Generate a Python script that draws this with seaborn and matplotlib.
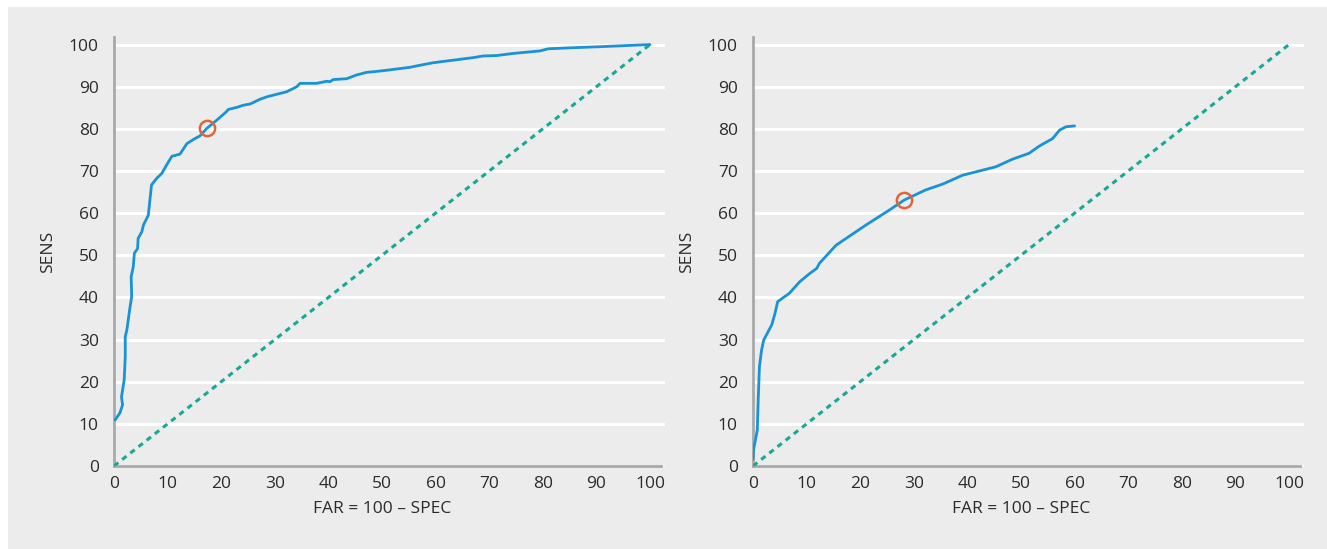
import numpy as np
import pandas as pd
import matplotlib
matplotlib.use("Agg")
import matplotlib.pyplot as plt
import seaborn as sns
from matplotlib.patches import Rectangle

# ROC curve, left panel (FAR, SENS)
left_far = [0.2, 1.1, 1.6, 1.4, 1.9, 2.1, 2.1, 2.4, 3.0, 3.3, 3.2, 3.6, 3.8, 4.4, 4.5,
            5.2, 5.5, 6.4, 6.7, 7.0, 8.0, 8.9, 9.8, 10.8, 12.3, 13.6, 15.1, 16.0, 17.3,
            19.2, 21.0, 21.3, 22.9, 24.1, 25.4, 27.2, 28.5, 29.7, 32.2, 34.1, 34.7,
            37.8, 39.7, 40.3, 40.9, 43.4, 45.3, 47.1, 50.2, 55.2, 57.1, 59.6, 63.3,
            67.0, 68.9, 71.4, 74.5, 79.5, 81.0, 84.5, 90.7, 100.0]
left_sens = [10.9, 12.6, 14.5, 16.4, 20.4, 25.9, 30.7, 32.3, 37.8, 40.2, 44.9, 47.3, 50.5,
             51.6, 54.0, 55.6, 57.2, 59.5, 63.1, 66.7, 68.3, 69.4, 71.4, 73.5, 74.0, 76.5,
             77.7, 78.3, 80.1, 82.1, 84.1, 84.6, 85.1, 85.6, 85.9, 87.0, 87.6, 88.0, 88.8,
             90.0, 90.8, 90.8, 91.3, 91.2, 91.7, 91.9, 92.8, 93.4, 93.8, 94.6, 95.1, 95.7,
             96.3, 96.9, 97.3, 97.4, 97.9, 98.5, 99.0, 99.2, 99.5, 100.0]
left_cut = (17.3, 80.1)

# ROC curve, right panel
right_far = [0.0, 0.1, 0.8, 0.97, 1.2, 1.6, 2.0, 3.5, 4.1, 4.6, 6.8, 8.7, 10.6, 11.9, 12.4,
             15.5, 21.1, 25.4, 28.2, 32.2, 35.4, 39.1, 42.2, 45.3, 48.4, 51.5, 53.4, 55.9,
             57.2, 58.4, 60.0]
right_sens = [1.5, 3.8, 8.5, 15.7, 23.6, 27.5, 29.9, 33.5, 36.2, 39.0, 41.0, 43.7, 45.7,
              46.9, 48.1, 52.4, 57.2, 60.7, 63.1, 65.5, 66.9, 69.0, 70.0, 71.0, 72.8, 74.2,
              75.9, 77.7, 79.7, 80.5, 80.7]
right_cut = (28.2, 63.1)

chance = [0, 100]

ticks = list(range(0, 101, 10))

BG = "#ebeceb"
BLUE = "#1793d6"
TEAL = "#17a899"
ORANGE = "#e0663a"
SPINE = "#a8a9aa"
TXT = "#2b2b2b"

sns.set_theme(style="whitegrid")
plt.rcParams["font.family"] = ["Open Sans", "DejaVu Sans"]

fig = plt.figure(figsize=(13.27, 5.49), dpi=100, facecolor="white")
fig.patches.append(Rectangle((8 / 1327, 0), 1, 1 - 7 / 549, transform=fig.transFigure,
                             facecolor=BG, edgecolor="none", zorder=-10))

ax1 = fig.add_axes([114 / 1327, 83 / 549, 551 / 1327, 429 / 549])
ax2 = fig.add_axes([753 / 1327, 83 / 549, 551 / 1327, 429 / 549])

panels = [(ax1, left_far, left_sens, left_cut), (ax2, right_far, right_sens, right_cut)]
for ax, far, sens, cut in panels:
    ax.set_facecolor(BG)
    df = pd.DataFrame({"FAR": far, "SENS": sens})
    sns.lineplot(x=chance, y=chance, ax=ax, color=TEAL, lw=2.2,
                 linestyle=(0, (1.8, 1.6)), zorder=3)
    sns.lineplot(data=df, x="FAR", y="SENS", ax=ax, sort=False, color=BLUE, lw=2.0,
                 zorder=4, estimator=None)
    ax.plot([cut[0]], [cut[1]], marker="o", ms=11, mfc="none", mec=ORANGE, mew=1.8,
            zorder=5)

    ax.set_xlim(0, 102.8)
    ax.set_ylim(0, 101.8)
    ax.set_xticks(ticks)
    ax.set_yticks(ticks)
    ax.grid(axis="x", visible=False)
    ax.grid(axis="y", color="white", lw=2.2)
    for s in ["top", "right"]:
        ax.spines[s].set_visible(False)
    for s in ["left", "bottom"]:
        ax.spines[s].set_color(SPINE)
        ax.spines[s].set_linewidth(2)
    ax.spines["bottom"].set_bounds(0, 102)
    ax.tick_params(axis="y", length=0, pad=11, labelsize=12.5, labelcolor=TXT)
    ax.tick_params(axis="x", length=0, pad=7, labelsize=12.5, labelcolor=TXT)
    ax.set_xlabel("FAR = 100 \u2013 SPEC", fontsize=12.5, color=TXT)
    ax.set_ylabel("SENS", fontsize=12.5, color=TXT)
    ax.xaxis.set_label_coords(50 / 102.8, -0.082)
    ax.yaxis.set_label_coords(-0.106, 0.5)

fig.savefig("out.png", dpi=100, facecolor="white")
